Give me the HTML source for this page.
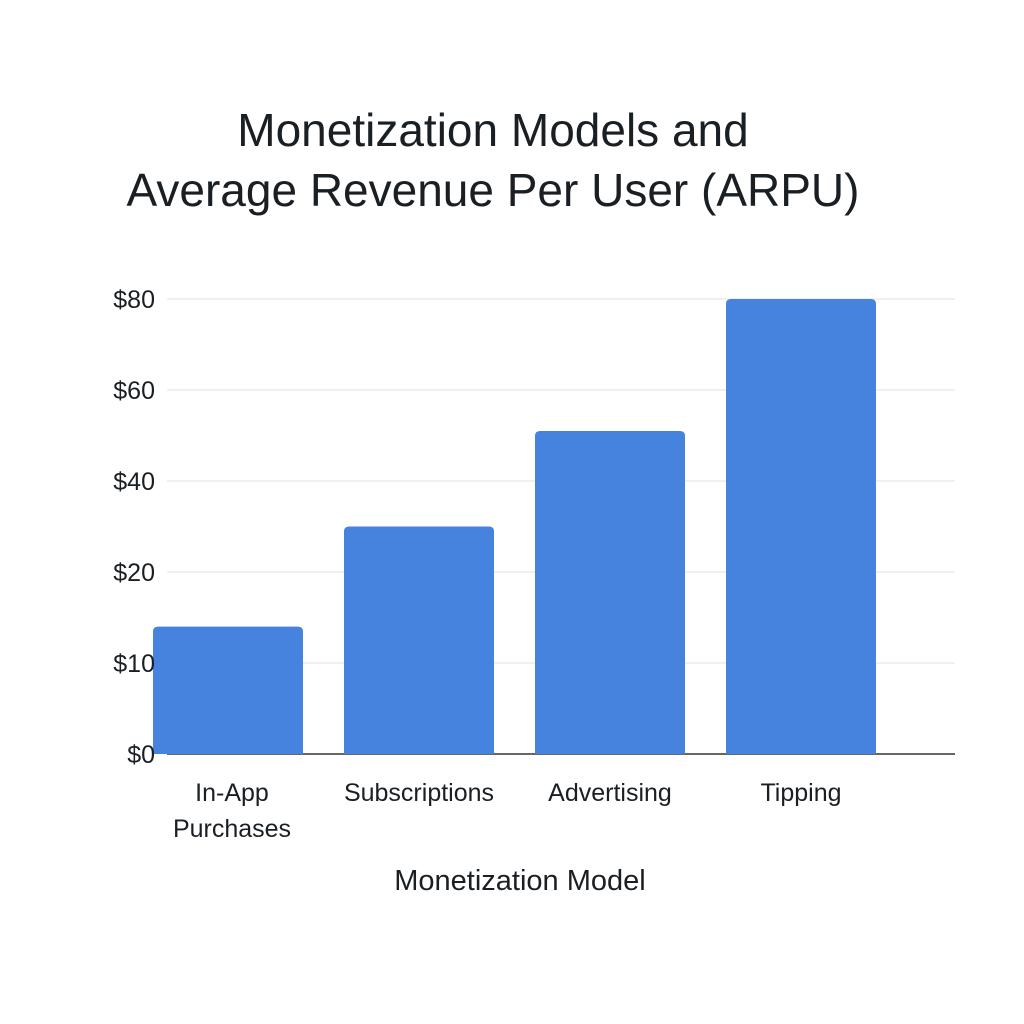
<!DOCTYPE html>
<html><head><meta charset="utf-8">
<style>
html,body{margin:0;padding:0;background:#fff;}
svg{display:block;font-family:"Liberation Sans",sans-serif;}
</style></head>
<body>
<svg id="chart" width="1024" height="1024" viewBox="0 0 1024 1024">
<text x="493" y="146" text-anchor="middle" font-size="46" fill="#1a1f24">Monetization Models and</text>
<text x="493" y="206" text-anchor="middle" font-size="46" fill="#1a1f24">Average Revenue Per User (ARPU)</text>
<g id="grid"></g>
<g id="bars"></g>
<g id="yticks"></g>
<g id="xticks"></g>
<text x="520" y="890" text-anchor="middle" font-size="29" fill="#1a1f24">Monetization Model</text>
</svg>
<script>
const categories = [["In-App","Purchases"],["Subscriptions"],["Advertising"],["Tipping"]];
const values = [14, 30, 51, 80];
const tickValues = [0, 10, 20, 40, 60, 80];
const tickLabels = ["$0","$10","$20","$40","$60","$80"];

const NS = "http://www.w3.org/2000/svg";
const yBase = 754, yStep = 91, xLeft = 167, xRight = 955;
function yScale(v){
  for(let i=0;i<tickValues.length-1;i++){
    const a=tickValues[i], b=tickValues[i+1];
    if(v<=b || i===tickValues.length-2){
      return yBase - (i + (v-a)/(b-a))*yStep;
    }
  }
}
function xCenter(i){ return 228 + i*191; }
const barW = 150;
function mk(tag, attrs, parent){
  const e=document.createElementNS(NS,tag);
  for(const k in attrs) e.setAttribute(k,attrs[k]);
  parent.appendChild(e); return e;
}
const grid=document.getElementById('grid'), bars=document.getElementById('bars'),
      yt=document.getElementById('yticks'), xt=document.getElementById('xticks');
tickValues.forEach((v,i)=>{
  const y=yScale(v);
  const l=mk('line',{x1:xLeft,x2:xRight,y1:y,y2:y,stroke:i===0?'#333':'#e2e2e2','stroke-width':i===0?1.5:1},grid);
  
  
  const t=mk('text',{x:155,y:y+9,'text-anchor':'end','font-size':25,fill:'#1a1f24'},yt);
  t.textContent=tickLabels[i];
  
  
});
values.forEach((v,i)=>{
  const cx=xCenter(i), y=yScale(v);
  const r=mk('path',{d:`M${cx-barW/2},${yBase} V${y+5} Q${cx-barW/2},${y} ${cx-barW/2+5},${y} H${cx+barW/2-5} Q${cx+barW/2},${y} ${cx+barW/2},${y+5} V${yBase} Z`,fill:'#4683de'},bars);
  
  
  categories[i].forEach((line,j)=>{
    const t=mk('text',{x:cx+(i===0?4:0),y:801+j*36,'text-anchor':'middle','font-size':25,fill:'#1a1f24'},xt);
    t.textContent=line;
    
    
  });
});
</script>
</body></html>
